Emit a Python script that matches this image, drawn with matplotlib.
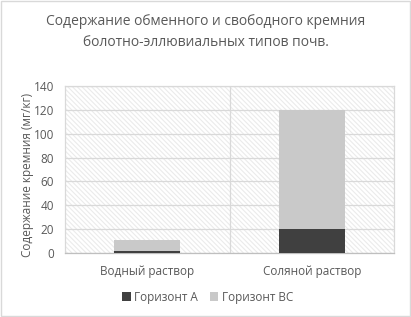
import matplotlib
matplotlib.use("Agg")
import matplotlib.pyplot as plt
from matplotlib.patches import Rectangle

# data
categories = ["Водный раствор", "Соляной раствор"]
horizon_a = [1.5, 20]
horizon_bc = [9.5, 100]
series_names = ["Горизонт A", "Горизонт BC"]

plt.rcParams['font.family'] = ['Open Sans', 'DejaVu Sans']
plt.rcParams['hatch.linewidth'] = 0.8
plt.rcParams['hatch.color'] = '#ebebeb'

text_col = "#595959"
grid_col = "#d9d9d9"

fig = plt.figure(figsize=(4.11, 3.17), dpi=100)
ax = fig.add_axes([0.158, 0.202, 0.801, 0.527])

# hatched plot background
ax.add_patch(Rectangle((0, 0), 1, 1, transform=ax.transAxes, facecolor="white",
                       edgecolor="#ebebeb", hatch="\\\\\\\\\\\\\\", lw=0, zorder=0))

x = list(range(len(categories)))
width = 0.4
ax.bar(x, horizon_a, width, color="#404040", label=series_names[0], zorder=3)
ax.bar(x, horizon_bc, width, bottom=horizon_a, color="#c9c9c9",
       label=series_names[1], zorder=3)

ax.set_xlim(-0.5, 1.5)
ax.set_ylim(0, 140)
ax.set_yticks(range(0, 141, 20))
ax.yaxis.grid(True, color=grid_col, lw=0.9, zorder=1)
ax.axvline(0.5, color=grid_col, lw=0.9, zorder=1)
ax.set_axisbelow(True)

for s in ax.spines.values():
    s.set_color(grid_col)
    s.set_linewidth(0.9)
ax.spines['bottom'].set_color("#bfbfbf")

ax.set_xticks(x)
ax.set_xticklabels(categories)
ax.tick_params(axis="both", length=0, colors=text_col, labelsize=8.5)
ax.tick_params(axis="x", pad=9)
ax.tick_params(axis="y", pad=8)

ax.set_ylabel("Содержание кремния (мг/кг)", color=text_col, fontsize=8.5)
ax.yaxis.set_label_coords(-0.095, 0.47)

fig.suptitle("Содержание обменного и свободного кремния\nболотно-эллювиальных типов почв.",
             x=0.5, y=0.955, fontsize=10, color=text_col, linespacing=1.55)

handles, labels = ax.get_legend_handles_labels()
fig.legend(handles, labels, loc="center", bbox_to_anchor=(0.505, 0.063), ncol=2,
           frameon=False, fontsize=8.5, labelcolor=text_col, handlelength=0.7,
           handleheight=0.7, handletextpad=0.3, columnspacing=1.0)

# figure border
fig.add_artist(Rectangle((0.002, 0.003), 0.995, 0.994, transform=fig.transFigure,
                         fill=False, edgecolor="#d9d9d9", lw=1))

fig.savefig("out.png", dpi=100)
